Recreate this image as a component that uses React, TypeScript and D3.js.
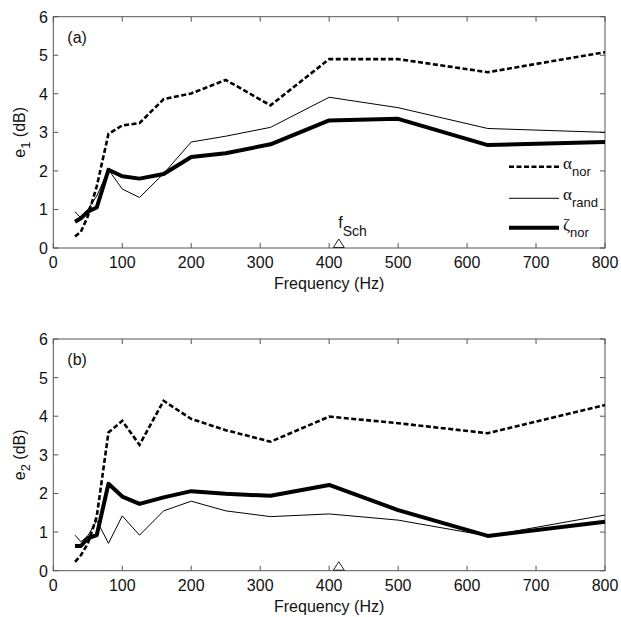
import React from "react";
import * as d3 from "d3";

const freqs = [31.5, 40, 50, 63, 80, 100, 125, 160, 200, 250, 315, 400, 500, 630, 800];

// Panel (a): e1
const aNorA = [0.3, 0.42, 0.82, 1.6, 2.96, 3.18, 3.24, 3.86, 4.01, 4.36, 3.7, 4.9, 4.9, 4.56, 5.08];
const aRandA = [0.94, 0.78, 1.0, 1.35, 2.03, 1.53, 1.31, 1.93, 2.75, 2.9, 3.13, 3.91, 3.64, 3.1, 3.0];
const zNorA = [0.68, 0.77, 0.94, 1.05, 2.03, 1.86, 1.8, 1.92, 2.36, 2.46, 2.69, 3.31, 3.35, 2.67, 2.75];

// Panel (b): e2
const aNorB = [0.23, 0.4, 0.7, 1.4, 3.58, 3.88, 3.26, 4.4, 3.93, 3.64, 3.34, 3.99, 3.82, 3.56, 4.29];
const aRandB = [0.92, 0.75, 0.9, 1.3, 0.71, 1.42, 0.92, 1.55, 1.8, 1.55, 1.4, 1.47, 1.31, 0.9, 1.44];
const zNorB = [0.64, 0.64, 0.84, 0.92, 2.25, 1.92, 1.73, 1.9, 2.06, 1.99, 1.94, 2.22, 1.57, 0.9, 1.27];

const xTicks = [0, 100, 200, 300, 400, 500, 600, 700, 800];
const yTicks = [0, 1, 2, 3, 4, 5, 6];
const fSch = 414;

const FONT = "'Liberation Sans', Arial, Helvetica, sans-serif";
const SERIF = "'Liberation Serif', 'Times New Roman', serif";

const left = 53.3;
const right = 605;

type PanelProps = {
  top: number;
  bottom: number;
  label: string;
  ylabelSub: string;
  aNor: number[];
  aRand: number[];
  zNor: number[];
  legend: boolean;
  schLabel: boolean;
};

function Panel({ top, bottom, label, ylabelSub, aNor, aRand, zNor, legend, schLabel }: PanelProps) {
  const x = d3.scaleLinear().domain([0, 800]).range([left, right]);
  const y = d3.scaleLinear().domain([0, 6]).range([bottom, top]);
  const mk = (vals: number[]) =>
    d3
      .line<number>()
      .x((_, i) => x(freqs[i]))
      .y((v) => y(v))(vals) || "";
  const tl = 5;
  const frame = "#555";
  const legendRows = [
    { name: "nor", sym: "\u03b1", dash: "5,2.5", w: 2.5 },
    { name: "rand", sym: "\u03b1", dash: "none", w: 1 },
    { name: "nor", sym: "\u03b6", dash: "none", w: 4 },
  ];
  const legendY = [166.7, 198.3, 227.7];
  const triX = x(fSch);
  return (
    <g>
      <defs>
        <clipPath id={`clip-${label}`}>
          <rect x={left} y={top} width={right - left} height={bottom - top} />
        </clipPath>
      </defs>
      {xTicks.map((t) => (
        <g key={`xt${t}`}>
          <line x1={x(t)} x2={x(t)} y1={bottom} y2={bottom - tl} stroke={frame} />
          <line x1={x(t)} x2={x(t)} y1={top} y2={top + tl} stroke={frame} />
          <text x={x(t)} y={bottom + 20} fontSize={16} fontFamily={FONT} textAnchor="middle" fill="#111">
            {t}
          </text>
        </g>
      ))}
      {yTicks.map((t) => (
        <g key={`yt${t}`}>
          <line x1={left} x2={left + tl} y1={y(t)} y2={y(t)} stroke={frame} />
          <line x1={right} x2={right - tl} y1={y(t)} y2={y(t)} stroke={frame} />
          <text x={48} y={y(t) + 6} fontSize={16} fontFamily={FONT} textAnchor="end" fill="#111">
            {t}
          </text>
        </g>
      ))}
      <rect x={left} y={top} width={right - left} height={bottom - top} fill="none" stroke={frame} strokeWidth={1} />
      <g clipPath={`url(#clip-${label})`}>
        <path d={mk(aRand)} fill="none" stroke="#000" strokeWidth={1} />
        <path d={mk(zNor)} fill="none" stroke="#000" strokeWidth={4} strokeLinejoin="round" />
        <path d={mk(aNor)} fill="none" stroke="#000" strokeWidth={2.6} strokeDasharray="5,2.5" />
      </g>
      <path
        d={`M${triX - 5.5},${bottom - 0.5} L${triX + 5.5},${bottom - 0.5} L${triX},${bottom - 9} Z`}
        fill="none"
        stroke="#222"
        strokeWidth={1}
      />
      {schLabel && (
        <text x={triX - 0.5} y={top + 211} fontSize={16} fontFamily={FONT} fill="#111">
          f
          <tspan fontSize={14} dy={8}>
            Sch
          </tspan>
        </text>
      )}
      <text x={left + 14} y={top + 26} fontSize={16} fontFamily={FONT} fill="#111">
        {label}
      </text>
      <text
        transform={`translate(25,${(top + bottom) / 2}) rotate(-90)`}
        fontSize={16}
        fontFamily={FONT}
        textAnchor="middle"
        fill="#111"
      >
        e
        <tspan fontSize={13} dy={5}>
          {ylabelSub}
        </tspan>
        <tspan dy={-5}> (dB)</tspan>
      </text>
      <text x={(left + right) / 2} y={bottom + 41} fontSize={16} fontFamily={FONT} textAnchor="middle" fill="#111">
        Frequency (Hz)
      </text>
      {legend &&
        legendRows.map((r, i) => (
          <g key={`lg${i}`}>
            <line
              x1={509}
              x2={559}
              y1={legendY[i]}
              y2={legendY[i]}
              stroke="#000"
              strokeWidth={r.w}
              strokeDasharray={r.dash}
            />
            <text x={563} y={legendY[i] + 2} fontSize={17} fontFamily={SERIF} fill="#111">
              {r.sym}
              <tspan fontFamily={FONT} fontSize={13} dy={7}>
                {r.name}
              </tspan>
            </text>
          </g>
        ))}
    </g>
  );
}

export default function App() {
  return (
    <svg
      width={621}
      height={617}
      style={{ position: "absolute", left: 0, top: 0, background: "#fff" }}
    >
      <rect width={621} height={617} fill="#fff" />
      <Panel
        top={16.7}
        bottom={248}
        label="(a)"
        ylabelSub="1"
        aNor={aNorA}
        aRand={aRandA}
        zNor={zNorA}
        legend={true}
        schLabel={true}
      />
      <Panel
        top={339}
        bottom={570.7}
        label="(b)"
        ylabelSub="2"
        aNor={aNorB}
        aRand={aRandB}
        zNor={zNorB}
        legend={false}
        schLabel={false}
      />
    </svg>
  );
}
